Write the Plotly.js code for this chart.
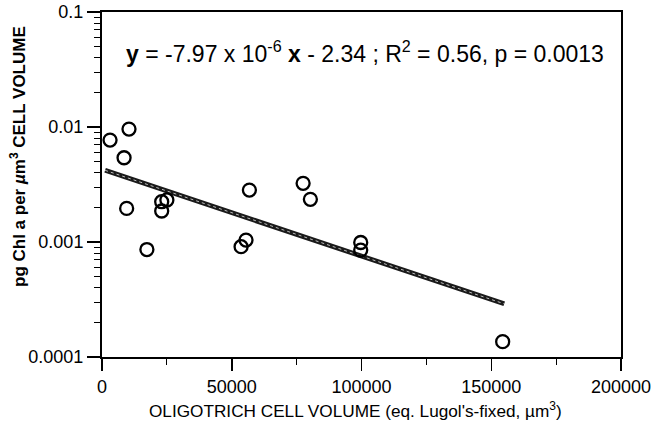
<!DOCTYPE html>
<html>
<head>
<meta charset="utf-8">
<script src="https://cdn.plot.ly/plotly-3.0.1.min.js"></script>
<style>html,body{margin:0;padding:0;background:#fff;}#chart{width:654px;height:430px;}</style>
</head>
<body>
<div id="chart"></div>
<script>
// Observed data: oligotrich cell volume (µm^3) vs pg Chl a per µm^3 cell volume
const cellVolume = [3100, 10400, 8500, 9500, 17300, 23000, 25000, 23000, 56800, 55500, 53600, 77500, 80300, 99700, 99700, 154400];
const chlPerVolume = [0.0077, 0.0096, 0.0054, 0.00196, 0.00086, 0.00224, 0.00232, 0.00186, 0.00283, 0.00104, 0.00091, 0.00324, 0.00235, 0.00099, 0.00085, 0.000136];

// Regression line endpoints (as drawn)
const fitX = [1200, 155000];
const fitY = [0.0042, 0.00029];

// Tick labels
const xTickVals = [0, 50000, 100000, 150000, 200000];
const xTickText = ['0', '50000', '100000', '150000', '200000'];
const yTickVals = [0.0001, 0.001, 0.01, 0.1];
const yTickText = ['0.0001', '0.001', '0.01', '0.1'];

const equationText = '<b>y</b> = -7.97 x 10<sup>-6</sup> <b>x</b> - 2.34 ; R<sup>2</sup> = 0.56, p = 0.0013';
const xTitle = 'OLIGOTRICH CELL VOLUME (eq. Lugol\'s-fixed, µm<sup>3</sup>)';
const yTitle = '<b>pg Chl a per <i>µ</i>m<sup>3</sup> CELL VOLUME</b>';

const yMinor = [];
for (let e = -4; e < -1; e++) {
  for (let m = 2; m <= 9; m++) yMinor.push(m * Math.pow(10, e));
}

const font = 'Liberation Sans, Arial, Helvetica, sans-serif';

const traces = [
  {
    x: fitX, y: fitY, mode: 'lines', type: 'scatter',
    line: {color: '#1a1a1a', width: 4.8}, hoverinfo: 'skip', showlegend: false
  },
  {
    x: fitX, y: fitY, mode: 'lines', type: 'scatter',
    line: {color: '#ffffff', width: 1, dash: 'dot'}, opacity: 0.7, hoverinfo: 'skip', showlegend: false
  },
  {
    x: cellVolume, y: chlPerVolume, mode: 'markers', type: 'scatter',
    marker: {symbol: 'circle-open', size: 13, color: '#000', line: {width: 2.3, color: '#000'}},
    showlegend: false
  }
];

const layout = {
  width: 654, height: 430,
  margin: {l: 102, r: 33, t: 12, b: 73},
  paper_bgcolor: '#fff', plot_bgcolor: '#fff',
  font: {family: font, color: '#000', size: 18},
  showlegend: false,
  xaxis: {
    range: [0, 200000],
    tickmode: 'array', tickvals: xTickVals, ticktext: xTickText,
    ticks: 'outside', ticklen: 12, tickwidth: 1.5, tickcolor: '#000',
    minor: {ticks: 'outside', ticklen: 6, tickwidth: 1.2, tickcolor: '#000', tickmode: 'linear', tick0: 0, dtick: 25000, showgrid: false},
    showline: true, linewidth: 2, linecolor: '#000', mirror: true,
    showgrid: false, zeroline: false,
    tickfont: {size: 18}
  },
  yaxis: {
    type: 'log', range: [-4, -1],
    tickmode: 'array', tickvals: yTickVals, ticktext: yTickText,
    ticks: 'outside', ticklen: 13, tickwidth: 1.5, tickcolor: '#000',
    minor: {ticks: 'outside', ticklen: 6, tickwidth: 1.2, tickcolor: '#000', tickmode: 'array', tickvals: yMinor, showgrid: false},
    showline: true, linewidth: 2, linecolor: '#000', mirror: true,
    showgrid: false, zeroline: false,
    tickfont: {size: 18}
  },
  annotations: [
    {
      text: equationText, xref: 'paper', yref: 'paper', x: 0.507, y: 0.884,
      xanchor: 'center', yanchor: 'middle', showarrow: false,
      font: {size: 23, family: font, color: '#000'}
    },
    {
      text: xTitle, xref: 'paper', yref: 'paper', x: (355 - 102) / 519, y: -(410 - 357) / 345,
      xanchor: 'center', yanchor: 'middle', showarrow: false,
      font: {size: 17.2, family: font, color: '#000'}
    },
    {
      text: yTitle, xref: 'paper', yref: 'paper', x: (18 - 102) / 519, y: (357 - 157) / 345,
      xanchor: 'center', yanchor: 'middle', showarrow: false, textangle: -90,
      font: {size: 17, family: font, color: '#000'}
    }
  ]
};

Plotly.newPlot('chart', traces, layout, {displayModeBar: false, staticPlot: true});
</script>
</body>
</html>
